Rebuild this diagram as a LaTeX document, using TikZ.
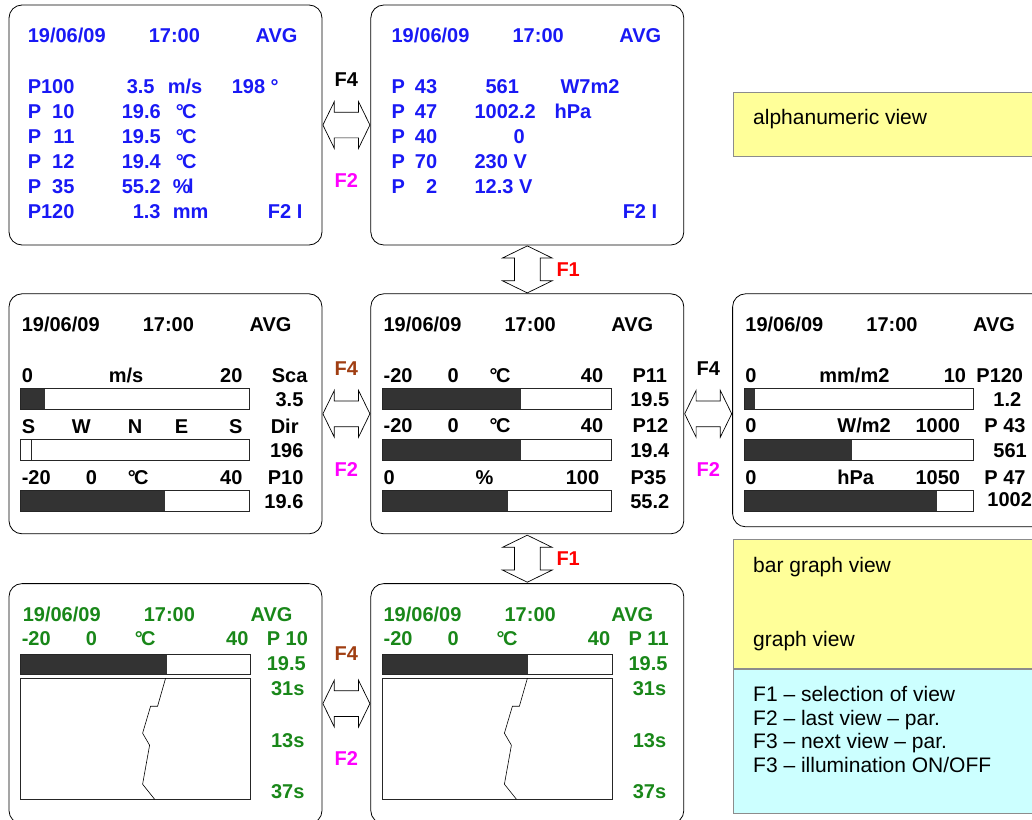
\documentclass[tikz,border=0pt]{standalone}
\usepackage{fontspec}
\setmainfont{Liberation Sans}
\usetikzlibrary{shapes.arrows,positioning,calc}

\definecolor{lcdblue}{RGB}{25,25,245}
\definecolor{lcdgreen}{RGB}{25,135,25}
\definecolor{keybrown}{RGB}{160,62,18}
\definecolor{keypink}{RGB}{255,0,255}
\definecolor{barfill}{RGB}{51,51,51}
\definecolor{noteyellow}{RGB}{255,255,153}
\definecolor{notecyan}{RGB}{204,255,255}

\newcommand{\dgC}{°\kern-0.08em C}

\begin{document}
\begin{tikzpicture}[
  x=1pt, y=-1pt,
  node distance=48pt and 48pt,
  panel/.style={draw, line width=0.8pt, rounded corners=13pt, minimum width=313pt, minimum height=240pt, inner sep=0pt},
  lcd/.style={font=\fontsize{20}{24}\selectfont\bfseries, inner sep=0pt, text height=14pt, text depth=0pt, anchor=west},
  lcdr/.style={lcd, anchor=east},
  bar/.style={draw=black!85, line width=0.8pt},
  key/.style={double arrow, draw, fill=white, line width=0.7pt, inner sep=12.5pt, double arrow tip angle=128, minimum height=47pt},
  hkey/.style={key, double arrow head extend=10.5pt},
  vkey/.style={key, shape border rotate=90, double arrow head extend=12pt},
  keylbl/.style={font=\fontsize{20}{24}\selectfont\bfseries, inner sep=0pt, text height=14pt, text depth=0pt},
  note/.style={draw=black!45, line width=1.2pt, inner sep=0pt, minimum width=307pt, anchor=north west},
  notetxt/.style={font=\fontsize{21}{25}\selectfont, inner sep=0pt, text height=15pt, text depth=0pt, anchor=west}
]
\useasboundingbox (0,0) rectangle (1032,819);

% display panels
\node[panel] (alnumA) at (165.5,125) {};
\node[panel, right=of alnumA] (alnumB) {};
\node[panel, below=of alnumA] (barC) {};
\node[panel, right=of barC] (barD) {};
\node[panel, minimum height=233pt, right=48pt of barD.north east, anchor=north west] (barE) {};
\node[panel, below=49pt of barC] (graphF) {};
\node[panel, right=of graphF] (graphG) {};

% header line of every panel
\foreach \p/\c/\dx in {alnumA/lcdblue/19, alnumB/lcdblue/21, barC/black/13, barD/black/13, barE/black/13, graphF/lcdgreen/14, graphG/lcdgreen/13} {
  \begin{scope}[shift={(\p.north west)}, every node/.append style={text=\c}]
    \node[lcd] (\p-date) at (\dx,31) {19/06/09};
    \node[lcd] (\p-time) at (\dx+121,31) {17:00};
    \node[lcdr] (\p-avg) at (\dx+270,31) {AVG};
  \end{scope}
}

% alphanumeric views
\begin{scope}[shift={(alnumA.north west)}, every node/.append style={text=lcdblue}]
  \foreach \tag/\vx/\val/\ux/\unit [count=\n] in {100/118/3.5/159/{m/s}, 10/113/19.6/167/\dgC, 11/113/19.5/167/\dgC, 12/113/19.4/167/\dgC, 35/113/55.2/164/\%\kern-.12em l, 120/124/1.3/164/mm} {
    \node[lcd] (A-p\n) at (19,57+25*\n) {P};
    \node[lcdr] (A-n\n) at (66,57+25*\n) {\tag};
    \node[lcd] (A-v\n) at (\vx,57+25*\n) {\val};
    \node[lcd] (A-u\n) at (\ux,57+25*\n) {\unit};
  }
  \node[lcd] (A-dir) at (223,82) {198 °};
  \node[lcdr] (A-key) at (294,207) {F2 I};
\end{scope}

\begin{scope}[shift={(alnumB.north west)}, every node/.append style={text=lcdblue}]
  \foreach \tag/\vx/\val [count=\n] in {43/115/561, 47/104/1002.2, 40/143/0, 70/104/230 V, 2/104/12.3 V} {
    \node[lcd] (B-p\n) at (21,57+25*\n) {P};
    \node[lcdr] (B-n\n) at (67,57+25*\n) {\tag};
    \node[lcd] (B-v\n) at (\vx,57+25*\n) {\val};
  }
  \node[lcd] (B-u1) at (190,82) {W7m2};
  \node[lcd] (B-u2) at (184,107) {hPa};
  \node[lcdr] (B-key) at (287,207) {F2 I};
\end{scope}

% bar graph views
\begin{scope}[shift={(barC.north west)}]
  \foreach \y/\f in {95/24, 146/0, 197/144} {
    \fill[barfill] (12,\y) rectangle ++(\f,21);
    \draw[bar] (12,\y) rectangle ++(229,21);
  }
  \draw[bar] (23,146) -- ++(0,21);
  \foreach \x/\y/\a/\t [count=\n] in {13/82/west/0, 100/82/west/{m/s}, 234/82/east/20, 263/82/west/Sca, 295/106/east/3.5,
      13/133/west/S, 63/133/west/W, 119/133/west/N, 166/133/west/E, 234/133/east/S, 262/133/west/Dir, 295/157/east/196,
      13/184/west/-20, 77/184/west/0, 119/184/west/\dgC, 234/184/east/40, 259/184/west/P10, 295/208/east/19.6}
    \node[lcd, anchor=\a] (C-\n) at (\x,\y) {\t};
\end{scope}

\begin{scope}[shift={(barD.north west)}]
  \foreach \y/\f in {95/139, 146/139, 197/126} {
    \fill[barfill] (12,\y) rectangle ++(\f,21);
    \draw[bar] (12,\y) rectangle ++(229,21);
  }
  \foreach \x/\y/\a/\t [count=\n] in {13/82/west/-20, 77/82/west/0, 119/82/west/\dgC, 233/82/east/40, 262/82/west/P11, 299/106/east/19.5,
      13/132/west/-20, 77/132/west/0, 119/132/west/\dgC, 233/132/east/40, 262/132/west/P12, 299/157/east/19.4,
      13/184/west/0, 105/184/west/\%, 229/184/east/100, 260/184/west/P35, 299/208/east/55.2}
    \node[lcd, anchor=\a] (D-\n) at (\x,\y) {\t};
\end{scope}

\begin{scope}[shift={(barE.north west)}]
  \foreach \y/\f in {95/11, 146/108, 197/193} {
    \fill[barfill] (12,\y) rectangle ++(\f,21);
    \draw[bar] (12,\y) rectangle ++(229,21);
  }
  \foreach \x/\y/\a/\t [count=\n] in {13/82/west/0, 87/82/west/{mm/m2}, 234/82/east/10, 244/82/west/P120, 261/106/west/1.2,
      13/132/west/0, 105/132/west/{W/m2}, 228/132/east/1000, 252/132/west/P 43, 261/157/west/561,
      13/184/west/0, 105/184/west/hPa, 228/184/east/1050, 252/184/west/P 47, 255/206/west/1002}
    \node[lcd, anchor=\a] (E-\n) at (\x,\y) {\t};
\end{scope}

% graph views
\foreach \p/\tag in {graphF/P 10, graphG/P 11} {
  \begin{scope}[shift={(\p.north west)}, every node/.append style={text=lcdgreen}]
    \fill[barfill] (12,71) rectangle (158,91);
    \draw[bar] (12,71) rectangle (242,91);
    \draw[bar] (12,95) rectangle (242,216);
    \draw[line width=0.6pt] (157,95) -- (149,123) -- (142,123) -- (134,150) -- (141,162) -- (134,201) -- (146,216);
    \foreach \x/\y/\a/\t [count=\n] in {13/55/west/-20, 77/55/west/0, 126/55/west/\dgC, 240/55/east/40, 258/55/west/\tag,
        258/80/west/19.5, 296/105/east/31s, 296/157/east/13s, 296/208/east/37s}
      \node[lcd, anchor=\a] (\p-\n) at (\x,\y) {\t};
  \end{scope}
}

% key arrows between the views
\node[hkey] (keyAB) at ($(alnumA.east)!0.5!(alnumB.west)$) {};
\node[hkey] (keyCD) at ($(barC.east)!0.5!(barD.west)$) {};
\node[hkey] (keyDE) at ($(barD.east)!0.5!(barE.west |- barD.east)$) {};
\node[hkey] (keyFG) at ($(graphF.east)!0.5!(graphG.west)$) {};
\node[vkey] (keyBD) at ($(alnumB.south)!0.5!(barD.north)$) {};
\node[vkey] (keyDG) at ($(barD.south)!0.5!(graphG.north)$) {};

\node[keylbl, above=38pt of keyAB.center] (keyAB-f4) {F4};
\node[keylbl, below=48pt of keyAB.center, text=keypink] (keyAB-f2) {F2};
\node[keylbl, above=38pt of keyCD.center, text=keybrown] (keyCD-f4) {F4};
\node[keylbl, below=48pt of keyCD.center, text=keypink] (keyCD-f2) {F2};
\node[keylbl, above=38pt of keyDE.center] (keyDE-f4) {F4};
\node[keylbl, below=48pt of keyDE.center, text=keypink] (keyDE-f2) {F2};
\node[keylbl, above=43pt of keyFG.center, text=keybrown] (keyFG-f4) {F4};
\node[keylbl, below=48pt of keyFG.center, text=keypink] (keyFG-f2) {F2};
\node[keylbl, right=29pt of keyBD.center, text=red] (keyBD-f1) {F1};
\node[keylbl, right=29pt of keyDG.center, text=red] (keyDG-f1) {F1};

% legend boxes
\node[note, fill=noteyellow, minimum height=64pt] (noteAlnum) at (733,92) {};
\node[note, fill=noteyellow, minimum height=129pt] (noteBar) at (733,539) {};
\node[note, fill=notecyan, minimum height=144pt] (noteKeys) at (noteBar.south west) {};

\node[notetxt] (txtAlnum) at ($(noteAlnum.north west)+(20,25)$) {alphanumeric view};
\node[notetxt] (txtBar) at ($(noteBar.north west)+(20,26)$) {bar graph view};
\node[notetxt] (txtGraph) at ($(noteBar.north west)+(20,100)$) {graph view};
\foreach \t [count=\n] in {F1 -- selection of view, F2 -- last view -- par., F3 -- next view -- par., F3 -- illumination ON/OFF}
  \node[notetxt] (txtKey\n) at ($(noteKeys.north west)+(20,1+23.7*\n)$) {\t};
\end{tikzpicture}
\end{document}
